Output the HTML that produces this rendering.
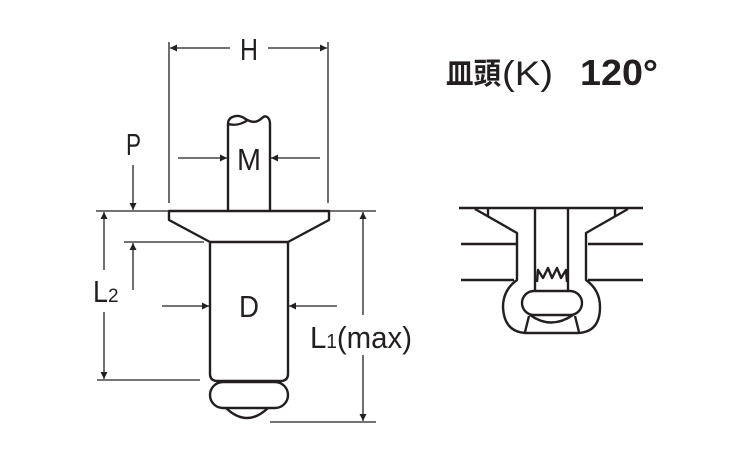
<!DOCTYPE html>
<html><head><meta charset="utf-8"><style>
html,body{margin:0;padding:0;background:#fff}
svg{display:block}
text{font-family:"Liberation Sans","Noto Sans CJK JP",sans-serif;fill:#231f20}
</style></head><body>
<svg width="750" height="450" viewBox="0 0 750 450" xmlns="http://www.w3.org/2000/svg">
<defs>
<marker id="a" viewBox="0 0 10 10" refX="10" refY="5" markerWidth="11" markerHeight="7" markerUnits="userSpaceOnUse" orient="auto"><path d="M0,0 L10,5 L0,10 z" fill="#231f20"/></marker>
</defs>
<g stroke="#231f20" fill="none" stroke-width="1.3">
<line x1="169" y1="42" x2="169" y2="203"/>
<line x1="328" y1="42" x2="328" y2="203"/>
<line x1="230" y1="48" x2="170" y2="48" marker-end="url(#a)"/>
<line x1="268" y1="48" x2="327" y2="48" marker-end="url(#a)"/>
<line x1="178" y1="158" x2="227" y2="158" marker-end="url(#a)"/>
<line x1="320" y1="158" x2="271" y2="158" marker-end="url(#a)"/>
<line x1="133" y1="165" x2="133" y2="210" marker-end="url(#a)"/>
<line x1="133" y1="290" x2="133" y2="243" marker-end="url(#a)"/>
<line x1="96" y1="211" x2="169" y2="211"/>
<line x1="124" y1="242" x2="204" y2="242"/>
<line x1="104" y1="270" x2="104" y2="212" marker-end="url(#a)"/>
<line x1="104" y1="312" x2="104" y2="379" marker-end="url(#a)"/>
<line x1="97" y1="380" x2="200" y2="380"/>
<line x1="162" y1="306" x2="209" y2="306" marker-end="url(#a)"/>
<line x1="337" y1="306" x2="289" y2="306" marker-end="url(#a)"/>
<line x1="330" y1="211" x2="376" y2="211"/>
<line x1="270" y1="422" x2="376" y2="422"/>
<line x1="363" y1="315" x2="363" y2="212" marker-end="url(#a)"/>
<line x1="363" y1="355" x2="363" y2="421" marker-end="url(#a)"/>
</g>
<g stroke="#231f20" fill="none" stroke-width="2.4" stroke-linejoin="round">
<path d="M228,210 L228,124 C228,116 238,114 244,118 C250,122 256,124 262,118 C266,114 270,118 270,124 L270,210"/>
<path d="M228,124 C236,126 242,124 248,120"/>
<path d="M169,211 L329,211 L329,220 L288,242 L210,242 L169,220 Z"/>
<path d="M210,242 L210,374 Q210,380 216,381 L282,381 Q288,380 288,374 L288,242"/>
<rect x="210" y="382" width="78" height="26" rx="13" ry="13"/>
<path d="M226,408 Q247,428 268,408"/>
</g>
<g stroke="#231f20" fill="none" stroke-width="2.4" stroke-linejoin="round">
<line x1="459" y1="208" x2="643" y2="208"/>
<line x1="461" y1="244" x2="516" y2="244"/>
<line x1="588" y1="244" x2="643" y2="244"/>
<line x1="461" y1="280" x2="514" y2="280"/>
<line x1="588" y1="280" x2="643" y2="280"/>
<path d="M475,209 L517,233 L517,280 Q503,290 503,307 Q504,332 526,333 L578,333 Q600,332 600,307 Q600,290 586,280 L586,233 L628,209"/>
<line x1="488" y1="209" x2="488" y2="216"/>
<line x1="615" y1="209" x2="615" y2="216"/>
<path d="M535,208 L535,292 M568,208 L568,292"/>
<path d="M537,282 L538,270 L543,278 L548,268 L552,278 L557,268 L561,278 L566,270 L567,282"/>
<rect x="522" y="291" width="60" height="24" rx="12" ry="12"/>
<path d="M530,315 Q551,330 573,315"/>
<line x1="529" y1="316" x2="525" y2="332"/>
<line x1="575" y1="316" x2="579" y2="332"/>
</g>
<g font-size="31">
<text x="240" y="60" textLength="18" lengthAdjust="spacingAndGlyphs">H</text>
<text x="237" y="170" textLength="24" lengthAdjust="spacingAndGlyphs">M</text>
<text x="126" y="155" textLength="15" lengthAdjust="spacingAndGlyphs">P</text>
<text x="239" y="317" textLength="20" lengthAdjust="spacingAndGlyphs">D</text>
<text x="93" y="302" textLength="15" lengthAdjust="spacingAndGlyphs">L</text>
<text x="108" y="302" font-size="19">2</text>
<text x="310" y="348" textLength="102" lengthAdjust="spacingAndGlyphs">L<tspan font-size="20">1</tspan>(max)</text>
</g>
<text x="446" y="84" font-size="30" font-weight="bold" textLength="55" lengthAdjust="spacingAndGlyphs">皿頭</text>
<text x="502" y="85" font-size="34" textLength="51" lengthAdjust="spacingAndGlyphs">(K)</text>
<text x="580" y="85" font-size="36" font-weight="bold" textLength="78" lengthAdjust="spacingAndGlyphs">120°</text>
</svg>
</body></html>
